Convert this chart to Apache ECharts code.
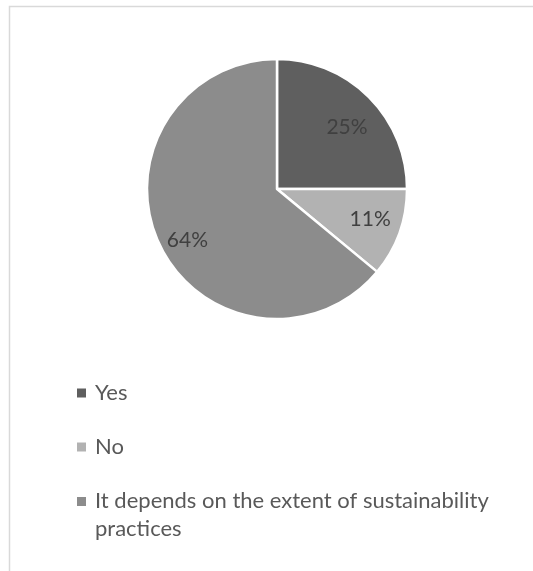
<!DOCTYPE html>
<html>
<head>
<meta charset="utf-8">
<script src="https://cdn.jsdelivr.net/npm/echarts@6/dist/echarts.min.js"></script>
<style>
  html, body { margin: 0; padding: 0; background: #ffffff; }
  #chart { width: 533px; height: 571px; }
</style>
</head>
<body>
<div id="chart"></div>
<script>
// Survey answers and their shares (%)
const categories = ['Yes', 'No', 'It depends on the extent of sustainability practices'];
const shares = [25, 11, 64];
const sliceColors = ['#5f5f5f', '#b2b2b2', '#8c8c8c'];

// small vertical nudges (px) of the percentage labels inside their slices
const labelNudge = [8, -3, 9];

const FONT = 'Lato, "Open Sans", sans-serif';
const pieCenter = [277, 189];
const pieRadius = 130;

const pieData = categories.map((name, i) => ({
  name: name,
  value: shares[i],
  itemStyle: { color: sliceColors[i] }
}));

const labelData = categories.map((name, i) => ({ name: name, value: shares[i] }));

const chart = echarts.init(document.getElementById('chart'), null, { renderer: 'canvas' });

chart.setOption({
  animation: false,
  backgroundColor: '#ffffff',
  graphic: [{
    // chart area frame
    type: 'rect',
    silent: true,
    shape: { x: 9.5, y: 6.5, width: 620, height: 620 },
    style: { fill: 'none', stroke: '#d9d9d9', lineWidth: 1.5 }
  }],
  legend: [{
    orient: 'vertical',
    left: 77,
    top: 379,
    padding: 0,
    itemGap: 26,
    itemWidth: 9,
    itemHeight: 9,
    icon: 'rect',
    itemStyle: { borderWidth: 0 },
    textStyle: { fontFamily: FONT, fontSize: 22, color: '#595959', lineHeight: 28, padding: [0, 0, 0, 4] },
    data: [categories[0], categories[1]]
  }, {
    orient: 'vertical',
    left: 77,
    top: 487,
    padding: 0,
    itemWidth: 9,
    itemHeight: 56,
    itemStyle: { borderWidth: 0 },
    textStyle: {
      fontFamily: FONT, fontSize: 22, color: '#595959', lineHeight: 28,
      padding: [0, 0, 0, 4], width: 420, overflow: 'break'
    },
    data: [{ name: categories[2], icon: 'path://M0,10L9,10L9,19L0,19ZM0,0L0,0M9,56L9,56' }]
  }],
  series: [{
    type: 'pie',
    center: pieCenter,
    radius: [0, pieRadius],
    startAngle: 90,
    clockwise: true,
    label: { show: false },
    labelLine: { show: false },
    itemStyle: { borderColor: '#ffffff', borderWidth: 2.5 },
    emphasis: { disabled: true },
    data: pieData
  }, {
    // transparent ring that carries the percentage labels
    type: 'pie',
    center: pieCenter,
    radius: [62, pieRadius],
    startAngle: 90,
    clockwise: true,
    silent: true,
    itemStyle: { color: 'rgba(0,0,0,0)', borderWidth: 0 },
    emphasis: { disabled: true },
    label: {
      show: true,
      position: 'inside',
      formatter: '{d}%',
      fontFamily: FONT,
      fontSize: 21,
      color: '#404040'
    },
    labelLine: { show: false },
    labelLayout: function (params) {
      return { dy: labelNudge[params.dataIndex] };
    },
    data: labelData
  }]
});
</script>
</body>
</html>
